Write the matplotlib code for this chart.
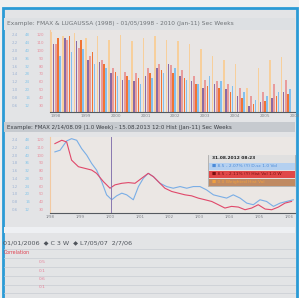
import matplotlib
matplotlib.use("Agg")
import matplotlib.pyplot as plt
from matplotlib.patches import Rectangle

W, H = 299, 298

# top panel: grouped bars, 21 periods, 0-100 scale
periods = list(range(21))
peach = [100, 95, 98, 92, 95, 90, 96, 88, 92, 95, 90, 88, 85, 78, 70, 65, 60, 30, 55, 65, 68]
salmon = [85, 90, 80, 70, 65, 55, 50, 48, 55, 60, 58, 52, 45, 40, 38, 35, 30, 20, 25, 35, 40]
purple = [85, 92, 88, 65, 62, 48, 40, 38, 45, 55, 60, 45, 38, 30, 35, 28, 20, 8, 12, 18, 25]
orange = [92, 95, 90, 75, 60, 50, 45, 42, 48, 52, 48, 42, 35, 32, 30, 25, 18, 10, 14, 20, 22]
blue = [70, 75, 78, 60, 55, 45, 40, 35, 42, 48, 55, 40, 35, 45, 38, 32, 25, 15, 20, 25, 28]
bar_ticks = ["1998", "1999", "2000", "2001", "2002", "2003", "2004", "2005", "2006"]

# middle panel: two lines, x in weeks (0-100), y 0-100
red_x = [2.0, 4.8, 6.8, 8.8, 11.6, 14.3, 17.0, 19.0, 21.8, 24.5, 26.5, 29.3, 32.0, 34.7, 37.4,
         40.1, 42.2, 44.2, 46.9, 49.7, 52.4, 55.1, 57.8, 60.5, 63.3, 66.0, 68.7, 71.4, 74.1,
         76.9, 79.6, 82.3, 85.0, 87.8, 90.5, 93.2, 95.9, 98.6]
red_y = [91.3, 95.7, 93.5, 69.6, 60.9, 58.7, 56.5, 52.2, 41.3, 32.6, 37.0, 39.1, 40.0, 39.1, 45.7,
         52.2, 47.8, 41.3, 32.6, 28.3, 26.1, 23.9, 22.6, 19.6, 17.4, 15.2, 10.9, 6.5, 8.7,
         7.8, 4.3, 6.5, 10.9, 5.2, 4.3, 7.8, 13.0, 15.2]
blue_x = [2.0, 4.1, 6.8, 8.8, 10.9, 12.9, 15.0, 17.0, 19.0, 21.1, 23.1, 25.2, 27.2, 29.3, 31.3,
          34.0, 36.1, 38.1, 40.1, 42.2, 44.9, 47.6, 50.3, 53.1, 55.8, 58.5, 61.2, 63.9, 66.7,
          69.4, 72.1, 74.8, 77.6, 80.3, 83.0, 85.7, 88.4, 91.2, 93.9, 96.6, 99.3]
blue_y = [80.4, 82.6, 94.8, 97.8, 95.7, 84.8, 76.1, 65.2, 56.5, 41.3, 23.9, 17.4, 22.6, 26.1, 23.9,
          17.4, 34.8, 45.7, 52.2, 47.8, 39.1, 34.8, 32.6, 34.8, 32.6, 34.8, 34.8, 30.4, 23.9,
          21.7, 19.6, 23.9, 19.6, 13.0, 10.9, 17.4, 15.2, 8.7, 13.0, 15.2, 17.4]
cursor_x = 24.9
line_ticks = ["1/98", "1/99", "1/00", "1/01", "1/02", "1/03", "1/04", "1/05", "1/06"]

# left axis labels (three scales per chart)
scale_a = ["2.4", "2.2", "2.0", "1.8", "1.6", "1.4", "1.2", "1.0", "0.8", "0.6"]
scale_b = ["48", "44", "40", "36", "32", "28", "24", "20", "16", "12"]
scale_c = ["120", "110", "100", "90", "80", "70", "60", "50", "40", "30"]

legend_rows = ["31.08.2012 08:23", "■ 8.5 - 2.07% (Y) D-sc 1.0 Vol", "■ 8.5 - 2.11% (Y) Hist Vol 1.0 W",
               "■ 0.0 Weighted Hist Vol"]
corr_vals = ["0.5", "0.1", "0.6", "0.1"]


def box(x0, y0, x1, y1):
    return [x0 / W, 1 - y1 / H, (x1 - x0) / W, (y1 - y0) / H]


def ft(x, y, s, **kw):
    fig.text(x / W, 1 - y / H, s, **kw)


def rect(x0, y0, x1, y1, z, **kw):
    fig.patches.append(Rectangle((x0 / W, 1 - y1 / H), (x1 - x0) / W, (y1 - y0) / H,
                                 transform=fig.transFigure, zorder=z, **kw))


fig = plt.figure(figsize=(W / 100, H / 100), dpi=100, facecolor="#f0f0f0")

# frame and panel backgrounds (behind the axes)
rect(2.5, 8, 296.5, 300, -3, facecolor="#e3e4e6", edgecolor="#2b9bd6", lw=2)
rect(4, 18, 295, 30, -2, facecolor="#dde0e3", edgecolor="none")
rect(4, 122, 295, 132, -2, facecolor="#c6cacf", edgecolor="none")
rect(4, 227, 295, 233, -2, facecolor="#eef0f3", edgecolor="none")

ft(7, 23, "Example: FMAX & LUGAUSSA (1998) - 01/05/1998 - 2010 (Jan-11) Sec Weeks",
   fontsize=4.2, color="#707478", va="center")
ft(7, 127, "Example: FMAX 2/14/08.09 (1.0 Week) - 15.08.2013 12:0 Hist (Jan-11) Sec Weeks",
   fontsize=4.0, color="#3a3e44", va="center")

# top bar chart
ax1 = fig.add_axes(box(50, 30, 295, 112))
ax1.set_facecolor("#e8e5e4")
series = [(peach, "#f7cf9c"), (purple, "#8a6aa4"), (salmon, "#e89c9c"),
          (orange, "#f07434"), (blue, "#82c0ee")]
step = 0.19
for i, (vals, col) in enumerate(series):
    ax1.bar([p + (i - 2) * step for p in periods], vals, width=0.14, color=col, linewidth=0)
ax1.set_xlim(-0.5, 20.5)
ax1.set_ylim(0, 102)
ax1.set_xticks([i * 2.6 for i in range(len(bar_ticks))])
ax1.set_xticklabels(bar_ticks, fontsize=3, color="#80848a")
ax1.set_yticks([])
ax1.tick_params(axis="x", length=0, pad=1.5)
for s in ["top", "right"]:
    ax1.spines[s].set_visible(False)
ax1.spines["left"].set_color("#f3c9a0")
ax1.spines["bottom"].set_color("#555a60")

# middle line chart
ax2 = fig.add_axes(box(50, 137, 295, 213))
ax2.set_facecolor("#ebe7e4")
ax2.plot(blue_x, blue_y, color="#7aaee6", lw=0.8)
ax2.plot(red_x, red_y, color="#e0486a", lw=0.8)
ax2.axvline(cursor_x, color="#8878b0", lw=0.7)
ax2.set_xlim(0, 100)
ax2.set_ylim(0, 100)
ax2.set_xticks([i * 12.2 for i in range(len(line_ticks))])
ax2.set_xticklabels(line_ticks, fontsize=3, color="#80848a")
ax2.set_yticks([])
ax2.tick_params(axis="x", length=0, pad=1.5)
for s in ["top", "right"]:
    ax2.spines[s].set_visible(False)
ax2.spines["left"].set_color("#f3c9a0")
ax2.spines["bottom"].set_color("#555a60")

# left scale columns
for top, bot in [(35, 106), (140, 210)]:
    dy = (bot - top) / (len(scale_a) - 1)
    for k in range(len(scale_a)):
        y = top + k * dy
        ft(18, y, scale_a[k], fontsize=2.8, color="#9fb4d4", ha="right", va="center")
        ft(30, y, scale_b[k], fontsize=2.8, color="#86c6ea", ha="right", va="center")
        ft(44, y, scale_c[k], fontsize=2.8, color="#e8909e", ha="right", va="center")

# legend box (above the axes)
rect(208, 155, 295, 186, 5, facecolor="#e0e0e0", edgecolor="#909090", lw=0.4)
row_styles = [("#e0e0e0", "#202020"), ("#b4d0f0", "#4a8ad8"), ("#e04848", "#7a1010"),
              ("#c08a62", "#f0a040")]
for k, (txt, (bg, fg)) in enumerate(zip(legend_rows, row_styles)):
    y = 158 + k * 8
    rect(209, y - 3.5, 295, y + 3.5, 6, facecolor=bg, edgecolor="none")
    ft(212, y, txt, fontsize=3.2, color=fg, va="center", zorder=7,
       fontweight="bold" if k == 0 else "normal")

# bottom panel
ft(3, 243, "01/01/2006  \u25c6 C 3 W  \u25c6 L7/05/07  2/7/06", fontsize=4.6, color="#50555c",
   va="center")
for y in [249, 258, 267, 276, 285, 293]:
    fig.lines.append(plt.Line2D([4 / W, 295 / W], [1 - y / H] * 2, transform=fig.transFigure,
                                color="#c8ccd2", lw=0.5))
ft(4, 253, "Correlation", fontsize=3.4, color="#e04050", va="center")
for k, v in enumerate(corr_vals):
    ft(46, 262 + k * 8.5, v, fontsize=3.2, color="#e88098", ha="right", va="center")

fig.savefig("out.png", dpi=100, facecolor=fig.get_facecolor())
